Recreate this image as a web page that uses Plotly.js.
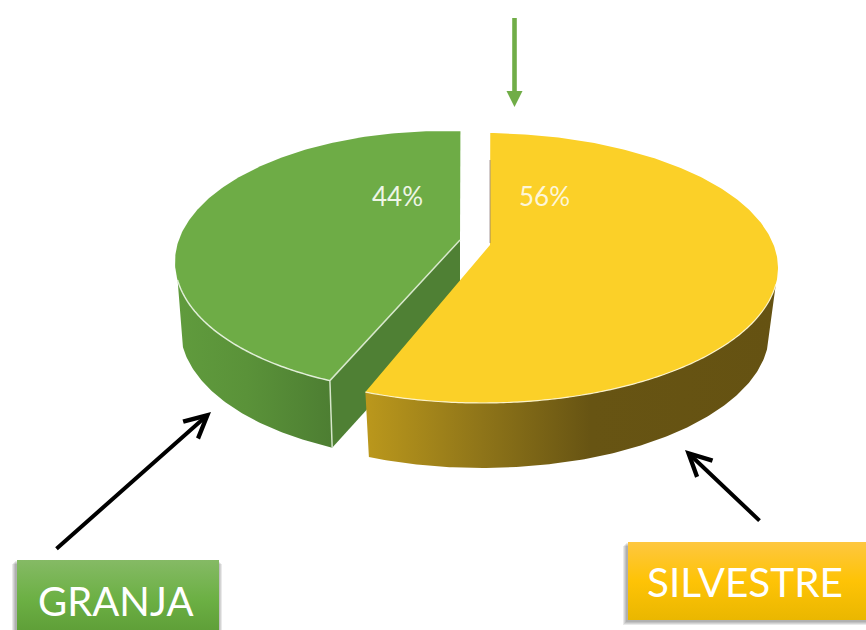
<!DOCTYPE html>
<html>
<head>
<meta charset="utf-8">
<script src="https://cdn.plot.ly/plotly-3.0.1.min.js"></script>
<style>html,body{margin:0;padding:0;background:#fff}#chart{width:866px;height:630px}</style>
</head>
<body>
<div id="chart"></div>
<script>
var categories = ['SILVESTRE', 'GRANJA'];
var shares = [56, 44];

var WIDTH = 866, HEIGHT = 630;
var FONT = 'Lato, "Open Sans", sans-serif';

// Projected geometry of each slice (pixel-like axis units)
var discs = {
  SILVESTRE: {cx: 482, cy: 268, rx: 296, ry: 135, phi: 1.6, depth: 65, base: 0.97,
              apex: [490, 245], wallFrom: 97},
  GRANJA:    {cx: 444, cy: 262, rx: 269, ry: 131, phi: 3.5, depth: 67, base: 0.98,
              apex: [460, 240], wallTo: 262}
};

function rim(d, deg, low) {
  var a = deg * Math.PI / 180, k = low ? d.base : 1;
  return [d.cx + k * d.rx * Math.sin(a), d.cy + (low ? d.depth : 0) - d.ry * Math.cos(a)];
}
function arc(d, from, to, low) {
  var out = [], n = Math.max(2, Math.round(Math.abs(to - from) * 1.5));
  for (var i = 0; i <= n; i++) out.push(rim(d, from + (to - from) * i / n, low));
  return out;
}
function xs(p) { return p.map(function (q) { return q[0]; }); }
function ys(p) { return p.map(function (q) { return q[1]; }); }
function poly(p, color, grad) {
  var t = {type: 'scatter', mode: 'lines', x: xs(p), y: ys(p), fill: 'toself', fillcolor: color,
           line: {width: 0, color: color}, hoverinfo: 'skip', showlegend: false};
  if (grad) t.fillgradient = grad;
  return t;
}
function stroke(p, color, w) {
  return {type: 'scatter', mode: 'lines', x: xs(p), y: ys(p),
          line: {width: w, color: color, simplify: false}, hoverinfo: 'skip', showlegend: false};
}

var total = shares[0] + shares[1];
var spanY = shares[0] / total * 360;          // SILVESTRE: clockwise from top
var Y = discs.SILVESTRE, G = discs.GRANJA;
var yStart = Y.phi, yEnd = Y.phi + spanY;
var gStart = G.phi + spanY, gEnd = G.phi + 360;

var traces = [];

// GRANJA side wall, cut face and top
var gWall = arc(G, gStart, G.wallTo, false).concat(arc(G, G.wallTo, gStart, true));
traces.push(poly(gWall, '#568a37', {type: 'horizontal',
  colorscale: [[0, '#609b3d'], [0.45, '#5a9239'], [1, '#4d7e32']]}));
var gCut = [G.apex, rim(G, gStart, false), rim(G, gStart, true), [G.apex[0], G.apex[1] + G.depth]];
traces.push(poly(gCut, '#4f8034'));
var gTop = [G.apex].concat(arc(G, gStart, gEnd, false));
traces.push(poly(gTop, '#6eac46'));
traces.push(stroke(arc(G, gStart, G.wallTo, false), 'rgba(235,245,228,0.9)', 1.5));
traces.push(stroke([G.apex, rim(G, gStart, false), rim(G, gStart, true)], 'rgba(225,238,215,0.9)', 1.5));

// SILVESTRE side wall and top
var yWall = arc(Y, yEnd, Y.wallFrom, false).concat(arc(Y, Y.wallFrom, yEnd, true));
traces.push(poly(yWall, '#8a7016', {type: 'horizontal',
  colorscale: [[0, '#bb981c'], [0.28, '#8f7519'], [0.55, '#675413'], [1, '#655212']]}));
var yTop = [Y.apex].concat(arc(Y, yStart, yEnd, false));
traces.push(poly(yTop, '#fbd028'));
traces.push(stroke(arc(Y, yEnd, Y.wallFrom, false), 'rgba(255,248,215,0.9)', 1.2));
traces.push(stroke([[Y.apex[0], Y.apex[1] - 2], [Y.apex[0], Y.apex[1] - 85]], 'rgba(130,110,110,0.7)', 1));

// Label boxes
var boxes = [
  {x0: 17, x1: 219, y0: 560, y1: 631, stops: [[0, '#85ba65'], [0.55, '#6cb044'], [1, '#5f9f38']],
   pad: {l: 1, r: 1, t: -1, b: 0}},
  {x0: 628, x1: 867, y0: 542, y1: 620, stops: [[0, '#fec740'], [0.5, '#fec306'], [1, '#eab700']],
   pad: {l: 1, r: 1, t: -1, b: 1}}
];
boxes.forEach(function (b) {
  traces.push(poly([[b.x0, b.y0], [b.x1, b.y0], [b.x1, b.y1], [b.x0, b.y1]], b.stops[1][1],
    {type: 'vertical', colorscale: b.stops, start: b.y0, stop: b.y1}));
});

// Green arrow from the top
var green = '#70ad47';
traces.push({type: 'scatter', mode: 'lines', x: [514.5, 514.5], y: [18, 92],
             line: {width: 4.6, color: green}, hoverinfo: 'skip', showlegend: false});
traces.push(poly([[506.5, 91], [522.5, 91], [514.5, 107]], green));

// Soft box shadows, falling to the lower left
var shapes = [];
boxes.forEach(function (b) {
  for (var i = 1; i <= 4; i++) {
    shapes.push({type: 'rect', layer: 'below', xref: 'x', yref: 'y',
      x0: b.x0 - i * b.pad.l - 1, x1: b.x1 + i * b.pad.r - 1,
      y0: b.y0 - i * b.pad.t, y1: b.y1 + i * b.pad.b + 1,
      line: {width: 0}, fillcolor: 'rgba(0,0,0,0.085)'});
  }
});

function note(text, x, y, size, color) {
  return {xref: 'x', yref: 'y', x: x, y: y, text: text, showarrow: false,
          xanchor: 'center', yanchor: 'middle', font: {family: FONT, size: size, color: color}};
}
function arrow(x0, y0, x1, y1) {
  return {xref: 'x', yref: 'y', axref: 'x', ayref: 'y', x: x1, y: y1, ax: x0, ay: y0, text: '',
          showarrow: true, arrowhead: 5, arrowsize: 1.1, arrowwidth: 4, arrowcolor: '#000', standoff: 0};
}

var annotations = [
  note(shares[0] + '%', 544, 196, 26, '#fdf6d8'),
  note(shares[1] + '%', 397, 196, 26, '#eef5e6'),
  note(categories[1], 116, 601, 40, '#ffffff'),
  note(categories[0], 745, 581, 40.5, '#ffffff'),
  arrow(55, 550, 211, 412),
  arrow(761, 522, 685, 450)
];

var layout = {
  width: WIDTH, height: HEIGHT,
  margin: {l: 0, r: 0, t: 0, b: 0},
  paper_bgcolor: '#ffffff', plot_bgcolor: '#ffffff',
  showlegend: false,
  xaxis: {range: [0, WIDTH], visible: false, fixedrange: true},
  yaxis: {range: [HEIGHT, 0], visible: false, fixedrange: true},
  shapes: shapes,
  annotations: annotations
};

Plotly.newPlot('chart', traces, layout, {displayModeBar: false, staticPlot: true});
</script>
</body>
</html>
